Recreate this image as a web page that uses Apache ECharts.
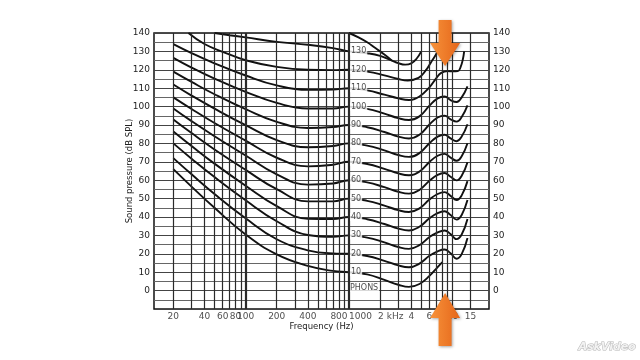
<!DOCTYPE html>
<html><head><meta charset="utf-8">
<script src="https://cdn.jsdelivr.net/npm/echarts@6/dist/echarts.min.js"></script>
<style>html,body{margin:0;padding:0;background:#fff}#c{width:640px;height:360px}</style>
</head><body><div id="c"></div>
<script>
// ---- data ----
const phons = [130,120,110,100,90,80,70,60,50,40,30,20,10];
const curve130 = [[50,140],[70,138.8],[100,137.6],[200,135.2],[400,133.6],[700,131.8],[1000,130],[1500,129],[2000,127.6],[2600,125],[3000,123.6],[3500,122.8],[4000,123.5],[4500,126],[5000,130]];
const curveTop = [[1000,140],[1250,137.5],[1500,135],[1800,131.8],[2200,128.3],[2600,125]];
const curve120 = [[28,140],[40,134],[60,129.8],[100,125.2],[200,121.6],[400,120],[700,119.8],[1000,120],[1500,119],[2200,117],[3000,115],[3700,114.2],[4700,115.6],[5500,119.5],[6200,124],[6800,127.5],[7300,130.5]];
const curve110 = [[20,134],[30,129.1],[50,123.5],[100,116.9],[200,111.5],[400,109.1],[700,109.2],[1000,110],[1500,108.8],[2200,106.5],[3000,104.5],[3800,103.6],[4800,105.5],[6000,110.5],[7000,115.5],[7800,118.3],[9000,119.3],[10000,119.2],[11300,119.3],[12000,121.5],[12600,125.5],[13000,130]];
const curve100 = [[20,126.5],[30,121.2],[50,115.2],[100,108],[200,102],[400,99],[700,99],[1000,100],[1500,98.8],[2200,96.2],[3000,93.7],[3800,92.7],[4800,94.7],[6000,100.5],[7200,104.5],[8400,105.5],[9600,103.5],[11000,102.5],[12300,105],[14000,111]];
const curve90 = [[20,119],[30,113.4],[50,106.7],[100,98.6],[200,91.7],[400,88.4],[700,88.9],[1000,90],[1500,88.8],[2200,86.2],[3000,83.7],[3800,82.7],[4800,84.7],[6000,90.3],[7200,94.1],[8400,95.1],[9600,93.1],[11000,91.85],[12300,94.35],[14000,100.7]];
const curve80 = [[20,112],[30,106],[50,98.9],[100,89.9],[200,81.8],[400,77.9],[700,78.6],[1000,80],[1500,78.8],[2200,76.2],[3000,73.7],[3800,72.7],[4800,74.7],[6000,80.1],[7200,83.7],[8400,84.7],[9600,82.7],[11000,81.2],[12300,83.7],[14000,90.4]];
const curve70 = [[20,105],[30,98.7],[50,91.1],[100,81.5],[200,72.2],[400,67.5],[700,68.4],[1000,70],[1500,68.8],[2200,66.2],[3000,63.7],[3800,62.7],[4800,64.7],[6000,69.9],[7200,73.3],[8400,74.3],[9600,72.3],[11000,70.55],[12300,73.05],[14000,80.1]];
const curve60 = [[20,99],[30,92.1],[50,83.9],[100,73.4],[200,63.2],[400,57.6],[700,58.2],[1000,60],[1500,58.8],[2200,56.2],[3000,53.7],[3800,52.7],[4800,54.7],[6000,59.7],[7200,62.9],[8400,63.9],[9600,61.9],[11000,59.9],[12300,62.4],[14000,69.8]];
const curve50 = [[20,93],[30,85.6],[50,76.7],[100,65.6],[200,55.1],[400,48.5],[700,48.5],[1000,50],[1500,48.8],[2200,46.2],[3000,43.7],[3800,42.7],[4800,44.7],[6000,49.5],[7200,52.5],[8400,53.5],[9600,51.5],[11000,49.25],[12300,51.75],[14000,59.5]];
const curve40 = [[20,86.5],[30,78.6],[50,69],[100,57],[200,45.9],[400,39],[700,38.9],[1000,40],[1500,38.8],[2200,36.2],[3000,33.7],[3800,32.7],[4800,34.7],[6000,39.3],[7200,42.1],[8400,43.1],[9600,41.1],[11000,38.6],[12300,41.1],[14000,49.2]];
const curve30 = [[20,80],[30,71.7],[50,61.7],[100,49.1],[200,37.7],[400,30.2],[700,29.2],[1000,30],[1500,28.8],[2200,26.2],[3000,23.7],[3800,22.7],[4800,24.7],[6000,29.1],[7200,31.7],[8400,32.7],[9600,30.7],[11000,27.95],[12300,30.45],[14000,38.9]];
const curve20 = [[20,72],[30,63.2],[50,52.5],[100,39.3],[200,27.9],[400,21.9],[700,20.2],[1000,20],[1500,18.8],[2200,16.2],[3000,13.7],[3800,12.7],[4800,14.7],[6000,18.9],[7200,21.3],[8400,22.3],[9600,20.3],[11000,17.3],[12300,19.8],[14000,28.6]];
const curve10 = [[20,66],[30,56.5],[50,45],[100,30.5],[200,19.7],[400,13.4],[700,10.7],[1000,10],[1500,8.8],[2200,5.8],[3000,3.2],[3800,2],[4800,3.6],[6000,8],[7200,12.8],[8000,15.5]];
const curves = [curve130,curve120,curve110,curve100,curve90,curve80,curve70,curve60,curve50,curve40,curve30,curve20,curve10];
const gridFreqs = [20,30,40,50,60,70,80,90,100,200,300,400,500,600,700,800,900,1000,2000,3000,4000,5000,6000,7000,8000,9000,10000,15000];
const boldFreqs = [100,1000];
const xTickFreqs = [20,40,60,80,100,200,400,800,1000,2000,4000,6000,8000,10000,15000];
const xTickLabels = ['20','40','60','80','100','200','400','800','1000','2 kHz','4','6','8','10','15'];
const phonsWord = 'PHONS';

// ---- chart ----
const FONT = 'DejaVu Sans';
const chart = echarts.init(document.getElementById('c'), null, {renderer:'canvas'});
const leftAligned = {1000: 0, 2000: -2};
const lineStyle = {color:'#111', width:1.9};
const curveSeries = curves.map((c,i)=>({
  type:'line', name:String(phons[i]), data:c, showSymbol:false, smooth:0.45, silent:true, z:3, lineStyle
}));
curveSeries.push({type:'line', name:'top', data:curveTop, showSymbol:false, smooth:0.45, silent:true, z:3, lineStyle});

const gridLineSeries = {
  type:'line', data:[], silent:true,
  markLine:{
    silent:true, symbol:'none', animation:false, label:{show:false},
    data: gridFreqs.map(f=>({xAxis:f, lineStyle:{color:'#2a2a2a', width: boldFreqs.includes(f)?2.2:1.2, type:'solid'}}))
  }
};
const phonLabelSeries = {
  type:'scatter', symbolSize:0, silent:true, z:6,
  data: phons.map(p=>[1000,p]),
  label:{show:true, position:'right', distance:1, formatter:(p)=>String(p.value[1]),
    fontFamily:FONT, fontSize:8, color:'#1a1a1a', backgroundColor:'#fff', padding:[0,1,0,1]}
};
const phonsWordSeries = {
  type:'scatter', symbolSize:0, silent:true, z:6,
  data: [[1000,1.5]],
  label:{show:true, position:'right', distance:1, formatter:phonsWord,
    fontFamily:FONT, fontSize:8, color:'#1a1a1a', backgroundColor:'#fff', padding:[0,1,0,0]}
};
const xTickSeries = {
  type:'scatter', symbolSize:0, silent:true, z:6,
  data: xTickFreqs.map((f,i)=>{
    const item = {value:[f,-10], name:xTickLabels[i]};
    if (f in leftAligned) item.label = {align:'left', offset:[leftAligned[f],0]};
    return item;
  }),
  label:{show:true, position:'bottom', distance:3, formatter:(p)=>p.name,
    fontFamily:FONT, fontSize:9, color:'#222'}
};
const yCommon = {
  type:'value', min:-10, max:140, interval:5,
  axisLine:{show:false}, axisTick:{show:false},
  axisLabel:{formatter:(v)=> (v>=0 && v%10===0)? String(v):'', fontFamily:FONT, fontSize:9, color:'#222', margin:4}
};
chart.setOption({
  animation:false,
  backgroundColor:'#fff',
  grid:{left:154, right:151, top:33, bottom:51, show:true, borderColor:'#111', borderWidth:1.5, backgroundColor:'transparent'},
  xAxis:{type:'log', logBase:10, min:13, max:22600,
    axisLine:{show:false}, axisTick:{show:false}, axisLabel:{show:false}, splitLine:{show:false}, minorSplitLine:{show:false},
    name:'Frequency (Hz)', nameLocation:'middle', nameGap:13, nameMoveOverlap:false,
    nameTextStyle:{fontFamily:FONT, fontSize:8.5, color:'#222', verticalAlign:'top'}},
  yAxis:[
    Object.assign({}, yCommon, {position:'left',
      splitLine:{show:true, lineStyle:{color:['#444','#666'], width:1}},
      name:'Sound pressure (dB SPL)', nameLocation:'middle', nameGap:20, nameRotate:90, nameMoveOverlap:false,
      nameTextStyle:{fontFamily:FONT, fontSize:8.5, color:'#222'}}),
    Object.assign({}, yCommon, {position:'right', splitLine:{show:false}})
  ],
  series:[gridLineSeries].concat(curveSeries, [phonLabelSeries, phonsWordSeries, xTickSeries])
});

// decorative arrows and watermark
function arrow(cx, tipY, baseY, endY){
  const hw = 15, sw = 6.5;
  const grad = new echarts.graphic.LinearGradient(0,0,1,0,[{offset:0,color:'#F7923A'},{offset:1,color:'#E5661A'}]);
  return {type:'polygon', z:100,
    shape:{points: [[cx-sw,endY],[cx+sw,endY],[cx+sw,baseY],[cx+hw,baseY],[cx,tipY],[cx-hw,baseY],[cx-sw,baseY]]},
    style:{fill:grad, shadowBlur:3, shadowColor:'rgba(0,0,0,0.35)', shadowOffsetX:1, shadowOffsetY:1}};
}
const ax = chart.convertToPixel({xAxisIndex:0}, 8500);
chart.setOption({graphic:[
  arrow(ax, 66, 43, 20),
  arrow(ax, 293, 318, 346),
  {type:'text', z:100, left:578, top:341, style:{text:'AskVideo', fontFamily:FONT, fontWeight:'bold', fontStyle:'italic', fontSize:11, fill:'#f2f2f2', stroke:'#b5b5b5', lineWidth:1}}
]});
</script></body></html>
